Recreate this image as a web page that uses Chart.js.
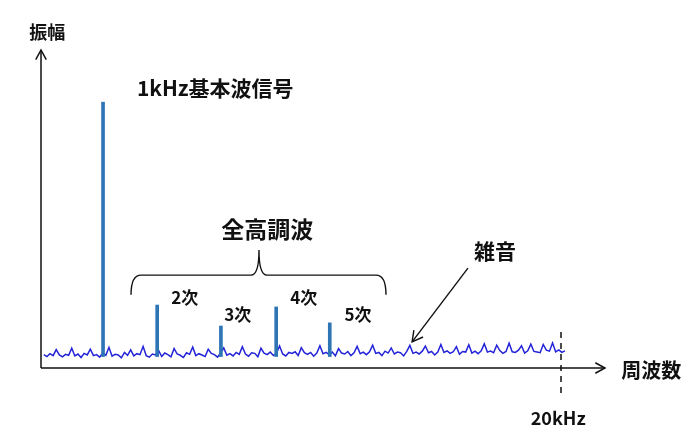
<!DOCTYPE html>
<html>
<head>
<meta charset="utf-8">
<script src="https://cdn.jsdelivr.net/npm/chart.js@4.4.1/dist/chart.umd.min.js"></script>
<style>
  html, body { margin: 0; padding: 0; background: #fff; }
  #wrap { width: 697px; height: 443px; position: relative; }
</style>
</head>
<body>
<div id="wrap"><canvas id="spectrum"></canvas></div>
<script>
// spectrum lines (position along the axis, 0-100, and amplitude)
const spikeX = [11.0, 20.6, 31.9, 41.7, 51.2];
const spikeTop = [83.6, 19.8, 13.2, 19.2, 14.2];
const spikeBase = 3.6;
const harmonicLabels = ["2次", "3次", "4次", "5次"];

// noise floor, read left to right
const noiseStart = 0.5;
const noiseEnd = 92.9;
const noise = [
    4.2, 3.6, 4.5, 3.9, 5.8, 4.1, 3.5, 4.3, 4.0, 6.2, 3.8, 4.4, 3.3, 4.6, 4.1, 5.9, 3.9, 4.2, 3.4, 4.8,
    4.0, 6.5, 3.7, 4.3, 4.1, 3.2, 4.9, 4.0, 5.7, 3.8, 4.5, 4.2, 6.8, 3.9, 3.4, 4.4, 4.1, 5.5, 3.6, 4.7,
    4.2, 3.5, 6.1, 4.4, 4.0, 3.3, 4.8, 4.3, 6.6, 3.9, 4.5, 4.1, 3.6, 5.9, 4.6, 4.2, 3.4, 4.7, 6.3, 4.0,
    4.5, 3.8, 4.9, 4.3, 6.7, 4.4, 3.7, 4.8, 4.6, 3.5, 6.2, 4.7, 4.2, 5.0, 3.9, 4.6, 6.9, 4.4, 3.8, 4.9,
    4.6, 5.1, 3.9, 6.4, 4.8, 4.3, 4.9, 3.7, 4.7, 7.0, 4.5, 4.9, 4.2, 5.0, 3.8, 6.1, 4.7, 4.4, 5.2, 3.9,
    4.8, 6.8, 4.5, 5.0, 4.2, 5.1, 7.2, 4.6, 4.9, 3.9, 5.3, 4.7, 6.3, 4.4, 5.0, 4.8, 3.8, 5.2, 7.1, 4.6,
    5.0, 4.4, 5.3, 6.9, 4.8, 5.2, 4.1, 5.0, 7.4, 4.9, 5.4, 4.6, 5.1, 6.7, 4.3, 5.2, 5.0, 7.3, 4.7, 5.3,
    4.5, 5.4, 7.6, 5.0, 5.3, 4.8, 7.2, 5.5, 4.6, 5.2, 7.8, 5.1, 4.9, 5.6, 7.0, 4.7, 5.4, 7.5, 5.2, 5.0,
    4.8, 7.4, 5.6, 5.3, 7.9, 5.1, 5.7, 4.9, 5.4
];
const cutoffX = 92.2;

// text labels in axis units
const FONT = '"Noto Sans CJK JP", "Noto Sans", sans-serif';
const labels = [
    { text: "振幅", x: 1.1, y: 105.7, size: 18, align: "center" },
    { text: "1kHz基本波信号", x: 17.0, y: 88.1, size: 21, align: "left" },
    { text: "全高調波", x: 40.1, y: 43.7, size: 23, align: "center" },
    { text: harmonicLabels[0], x: 25.5, y: 22.3, size: 17, align: "center" },
    { text: harmonicLabels[1], x: 34.9, y: 16.7, size: 17, align: "center" },
    { text: harmonicLabels[2], x: 46.6, y: 22.3, size: 17, align: "center" },
    { text: harmonicLabels[3], x: 56.2, y: 16.7, size: 17, align: "center" },
    { text: "雑音", x: 80.5, y: 36.8, size: 21, align: "center" },
    { text: "周波数", x: 108.2, y: -0.6, size: 20, align: "center" },
    { text: "20kHz", x: 91.7, y: -15.7, size: 18, align: "center" }
];

const noisePoints = noise.map((v, i) => ({
    x: noiseStart + (noiseEnd - noiseStart) * i / (noise.length - 1),
    y: v
}));
const spikePoints = spikeX.map((x, i) => ({ x: x, y: [spikeBase, spikeTop[i]] }));

function arrowHead(ctx, x, y, angle, len) {
    ctx.beginPath();
    ctx.moveTo(x - len * Math.cos(angle - 0.5), y - len * Math.sin(angle - 0.5));
    ctx.lineTo(x, y);
    ctx.lineTo(x - len * Math.cos(angle + 0.5), y - len * Math.sin(angle + 0.5));
    ctx.stroke();
}

const diagramPlugin = {
    id: "diagram",
    afterDatasetsDraw(chart) {
        const ctx = chart.ctx;
        const xs = chart.scales.x;
        const ys = chart.scales.y;
        const area = chart.chartArea;
        const px = v => xs.getPixelForValue(v);
        const py = v => ys.getPixelForValue(v);

        ctx.save();
        ctx.strokeStyle = "#111";
        ctx.lineWidth = 1.5;

        // axes with open arrow heads
        ctx.beginPath();
        ctx.moveTo(area.left, area.bottom);
        ctx.lineTo(area.left, area.top);
        ctx.moveTo(area.left, area.bottom);
        ctx.lineTo(area.right, area.bottom);
        ctx.stroke();
        arrowHead(ctx, area.left, area.top, -Math.PI / 2, 11);
        arrowHead(ctx, area.right, area.bottom, 0, 11);

        // 20kHz cutoff
        ctx.setLineDash([6, 5]);
        ctx.beginPath();
        ctx.moveTo(px(cutoffX), py(11.3));
        ctx.lineTo(px(cutoffX), py(-9.1));
        ctx.stroke();
        ctx.setLineDash([]);

        // brace over the harmonics
        const bl = px(15.96), br = px(61.17), bc = px(38.65);
        const yEnd = py(23.0), yBar = py(29.2), yTip = py(37.1);
        ctx.lineWidth = 1.4;
        ctx.beginPath();
        ctx.moveTo(bl, yEnd);
        ctx.quadraticCurveTo(bl, yBar, bl + 10, yBar);
        ctx.lineTo(bc - 8, yBar);
        ctx.quadraticCurveTo(bc, yBar, bc, yTip);
        ctx.quadraticCurveTo(bc, yBar, bc + 8, yBar);
        ctx.lineTo(br - 10, yBar);
        ctx.quadraticCurveTo(br, yBar, br, yEnd);
        ctx.stroke();

        // arrow pointing at the noise
        const ax0 = px(75.7), ay0 = py(31.4), ax1 = px(65.8), ay1 = py(8.2);
        ctx.beginPath();
        ctx.moveTo(ax0, ay0);
        ctx.lineTo(ax1, ay1);
        ctx.stroke();
        arrowHead(ctx, ax1, ay1, Math.atan2(ay1 - ay0, ax1 - ax0), 12);

        // texts
        ctx.fillStyle = "#111";
        ctx.textBaseline = "middle";
        labels.forEach(l => {
            ctx.font = "bold " + l.size + "px " + FONT;
            ctx.textAlign = l.align;
            ctx.fillText(l.text, px(l.x), py(l.y));
        });
        ctx.restore();
    }
};

new Chart(document.getElementById("spectrum"), {
    data: {
        datasets: [
            {
                type: "line",
                label: "雑音",
                data: noisePoints,
                borderColor: "#2323d8",
                borderWidth: 1.5,
                pointRadius: 0,
                tension: 0,
                order: 2
            },
            {
                type: "bar",
                label: "信号",
                data: spikePoints,
                backgroundColor: "#2e75b6",
                borderWidth: 0,
                barThickness: 3,
                grouped: false,
                order: 1
            }
        ]
    },
    options: {
        responsive: true,
        maintainAspectRatio: false,
        animation: false,
        layout: { padding: { left: 41, right: 92, top: 50, bottom: 75 } },
        plugins: {
            legend: { display: false },
            tooltip: { enabled: false }
        },
        scales: {
            x: { type: "linear", min: 0, max: 100, offset: false, display: false },
            y: { type: "linear", min: 0, max: 100, display: false }
        }
    },
    plugins: [diagramPlugin]
});
</script>
</body>
</html>
